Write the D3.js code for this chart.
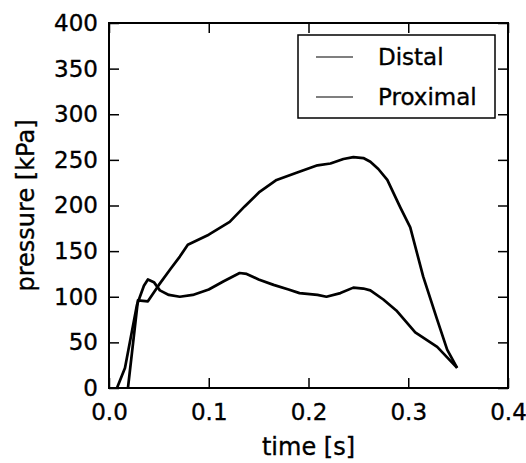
<!DOCTYPE html>
<html>
<head>
<meta charset="utf-8">
<script src="https://cdn.jsdelivr.net/npm/d3@7"></script>
<style>
  body { margin: 0; background: #fff; }
  text { font-family: "DejaVu Sans", sans-serif; fill: #000; stroke: #000; stroke-width: 0.35px; }
</style>
</head>
<body>
<div id="chart"></div>
<script>
// Series
const distalTime = [0.019, 0.029, 0.039, 0.05, 0.062, 0.071, 0.079, 0.1, 0.121, 0.136, 0.151, 0.168, 0.188, 0.209, 0.222, 0.235, 0.245, 0.255, 0.262, 0.27, 0.279, 0.292, 0.302, 0.315, 0.329, 0.339, 0.349];
const distalPressure = [0, 96, 95, 113, 131, 144, 157, 168, 182, 199, 215, 228, 236, 244, 246, 251, 253, 252, 248, 240, 228, 198, 176, 122, 75, 42, 22];

const proximalTime = [0.008, 0.016, 0.028, 0.035, 0.039, 0.045, 0.051, 0.06, 0.071, 0.084, 0.1, 0.115, 0.131, 0.138, 0.15, 0.165, 0.18, 0.191, 0.209, 0.218, 0.232, 0.245, 0.255, 0.262, 0.275, 0.288, 0.307, 0.329, 0.349];
const proximalPressure = [0, 22, 91, 112, 119, 116, 107, 102, 100, 102, 108, 117, 126, 125, 119, 113, 108, 104, 102, 100, 104, 110, 109, 107, 97, 85, 61, 45, 22];

const seriesNames = ["Distal", "Proximal"];
const xTicks = [0.0, 0.1, 0.2, 0.3, 0.4];
const yTicks = [0, 50, 100, 150, 200, 250, 300, 350, 400];

const width = 526, height = 463;
const margin = { top: 23, right: 18, bottom: 75, left: 109 };
const innerW = width - margin.left - margin.right;
const innerH = height - margin.top - margin.bottom;

const svg = d3.select("#chart").append("svg")
    .attr("width", width)
    .attr("height", height);

const g = svg.append("g").attr("transform", `translate(${margin.left},${margin.top})`);

const x = d3.scaleLinear().domain([0, 0.4]).range([0, innerW]);
const y = d3.scaleLinear().domain([0, 400]).range([innerH, 0]);

// data lines
const series = [
    { name: seriesNames[0], pts: distalTime.map((t, i) => [t, distalPressure[i]]) },
    { name: seriesNames[1], pts: proximalTime.map((t, i) => [t, proximalPressure[i]]) }
];
const line = d3.line().x(d => x(d[0])).y(d => y(d[1]));

g.append("g").selectAll("path")
    .data(series)
    .join("path")
    .attr("d", d => line(d.pts))
    .attr("fill", "none")
    .attr("stroke", "#000")
    .attr("stroke-width", 2.7)
    .attr("stroke-linejoin", "round");

// axes with inward ticks on all four sides
const tickLen = 10;
const fmtX = d3.format(".1f");

const xAxis = g.append("g")
    .attr("transform", `translate(0,${innerH})`)
    .call(d3.axisBottom(x).tickValues(xTicks).tickFormat(fmtX).tickSizeInner(-tickLen).tickSizeOuter(0).tickPadding(16));
const yAxis = g.append("g")
    .call(d3.axisLeft(y).tickValues(yTicks).tickSizeInner(-tickLen).tickSizeOuter(0).tickPadding(11));
const xTop = g.append("g")
    .call(d3.axisTop(x).tickValues(xTicks).tickFormat("").tickSizeInner(-tickLen).tickSizeOuter(0));
const yRight = g.append("g")
    .attr("transform", `translate(${innerW},0)`)
    .call(d3.axisRight(y).tickValues(yTicks).tickFormat("").tickSizeInner(-tickLen).tickSizeOuter(0));

[xAxis, yAxis, xTop, yRight].forEach(a => {
    a.select(".domain").remove();
    a.selectAll("line").attr("stroke", "#000").attr("stroke-width", 1.5);
    a.selectAll("text")
        .style("font-size", "23px")
        .style("font-family", "DejaVu Sans, sans-serif")
        .attr("stroke", "#000")
        .attr("stroke-width", 0.35);
});

// frame
g.append("rect")
    .attr("width", innerW)
    .attr("height", innerH)
    .attr("fill", "none")
    .attr("stroke", "#000")
    .attr("stroke-width", 2);

// axis labels
svg.append("text")
    .attr("x", margin.left + innerW / 2)
    .attr("y", 455)
    .attr("text-anchor", "middle")
    .style("font-size", "24px")
    .text("time [s]");

svg.append("text")
    .attr("transform", `translate(34,${margin.top + innerH / 2}) rotate(-90)`)
    .attr("text-anchor", "middle")
    .style("font-size", "24px")
    .text("pressure [kPa]");

// legend
const legend = svg.append("g").attr("transform", "translate(298,35)");
legend.append("rect")
    .attr("width", 197)
    .attr("height", 83)
    .attr("fill", "#fff")
    .attr("stroke", "#000")
    .attr("stroke-width", 1.5);

const items = legend.selectAll("g.item")
    .data(seriesNames)
    .join("g")
    .attr("class", "item")
    .attr("transform", (d, i) => `translate(0,${22 + i * 40})`);
items.append("line")
    .attr("x1", 18).attr("x2", 55)
    .attr("stroke", "#000")
    .attr("stroke-width", 1.2);
items.append("text")
    .attr("x", 80)
    .attr("y", 8)
    .style("font-size", "23px")
    .text(d => d);
</script>
</body>
</html>
